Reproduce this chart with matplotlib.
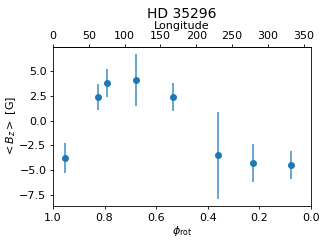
import matplotlib
matplotlib.use("Agg")
import matplotlib.pyplot as plt
import numpy as np

# rotational phase and longitudinal field measurements
phase = np.array([0.953, 0.826, 0.790, 0.678, 0.536, 0.360, 0.226, 0.079])
bz = np.array([-3.8, 2.4, 3.8, 4.1, 2.4, -3.5, -4.3, -4.5])
bz_err = np.array([1.5, 1.3, 1.4, 2.6, 1.4, 4.4, 1.9, 1.4])


def phase_to_lon(p):
    return 360 * (1 - p)


def lon_to_phase(lon):
    return 1 - lon / 360


def main():
    plt.rcParams['font.size'] = 8
    plt.rcParams['axes.linewidth'] = 0.6
    for ax_name in ('xtick', 'ytick'):
        plt.rcParams[ax_name + '.major.size'] = 2.5
        plt.rcParams[ax_name + '.major.width'] = 0.6
        plt.rcParams[ax_name + '.major.pad'] = 2.2
    fig, ax = plt.subplots(figsize=(3.27, 2.45), dpi=100)
    fig.subplots_adjust(left=0.162, right=0.951, top=0.808, bottom=0.159)
    ax.errorbar(phase, bz, yerr=bz_err, fmt='o', markersize=4,
                elinewidth=1.2, color='#1f77b4', ecolor='#4d97cc')
    ax.set_xlim(1.0, 0.0)
    ax.set_xlabel(r"$\phi_{\rm rot}$", labelpad=1)
    ax.set_ylabel(r"$<B_z>$ [G]", labelpad=1)
    top = ax.secondary_xaxis('top', functions=(phase_to_lon, lon_to_phase))
    top.set_xticks(range(0, 351, 50))
    top.set_xlabel("Longitude", labelpad=1)
    ax.set_title("HD 35296", fontsize=10, pad=2)
    fig.savefig("out.png", dpi=100)


if __name__ == "__main__":
    main()
